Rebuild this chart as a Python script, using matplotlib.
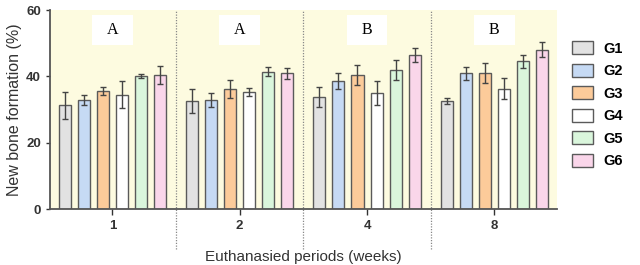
import numpy as np
import matplotlib
matplotlib.use("Agg")
import matplotlib.pyplot as plt
from matplotlib.patches import Patch, Rectangle

plt.rcParams['font.family'] = ['Liberation Sans', 'DejaVu Sans']

periods = ['1', '2', '4', '8']
groups = ['G1', 'G2', 'G3', 'G4', 'G5', 'G6']
letters = ['A', 'A', 'B', 'B']

# mean values, one list per group, ordered by period
g1 = [31.3, 32.6, 33.7, 32.6]
g2 = [32.8, 32.9, 38.5, 40.9]
g3 = [35.6, 36.1, 40.4, 40.9]
g4 = [34.5, 35.3, 34.9, 36.3]
g5 = [40.1, 41.4, 41.8, 44.5]
g6 = [40.5, 40.9, 46.4, 48.1]

# error bars
e1 = [4.0, 3.6, 3.0, 0.8]
e2 = [1.5, 2.2, 2.4, 2.0]
e3 = [1.2, 2.7, 2.9, 3.0]
e4 = [4.0, 1.2, 3.6, 3.1]
e5 = [0.6, 1.4, 3.0, 2.0]
e6 = [2.7, 1.6, 2.2, 2.3]

means = [g1, g2, g3, g4, g5, g6]
errs = [e1, e2, e3, e4, e5, e6]
colors = ['#e2e2e2', '#c6daf4', '#fccb9a', '#ffffff', '#daf6dc', '#fad6ea']
edge = '#5a5a5a'

fig = plt.figure(figsize=(6.4, 2.65), dpi=100)
ax = fig.add_axes([0.078, 0.211, 0.792, 0.751])
ax.set_facecolor('#fdfbe0')

x = np.arange(len(periods))
step = 0.15
width = 0.095
for i in range(len(groups)):
    pos = x + (i - 2.5) * step
    ax.bar(pos, means[i], width, color=colors[i], edgecolor=edge, linewidth=1.0, zorder=2)
    ax.errorbar(pos, means[i], yerr=errs[i], fmt='none', ecolor='#444444',
                elinewidth=1.0, capsize=2.5, capthick=1.0, zorder=3)

ax.set_xlim(-0.49, 3.49)
ax.set_ylim(0, 60)
ax.set_yticks([0, 20, 40, 60])
ax.set_xticks(x)
ax.set_xticklabels(periods)
for lab in ax.get_xticklabels() + ax.get_yticklabels():
    lab.set_fontweight('bold')
    lab.set_fontsize(9.5)
ax.tick_params(axis='both', colors='#333333', length=3, width=1.0)
ax.tick_params(axis='x', length=4, pad=4)

for s in ['top', 'right']:
    ax.spines[s].set_visible(False)
for s in ['left', 'bottom']:
    ax.spines[s].set_color('#555555')
    ax.spines[s].set_linewidth(1.3)

# dotted separators
for sep in [0.5, 1.5, 2.5]:
    ax.plot([sep, sep], [-0.2, 1.0], transform=ax.get_xaxis_transform(),
            color='#888888', linestyle=(0, (1, 1.2)), linewidth=0.9, clip_on=False, zorder=1)

# letter boxes
box_w, box_y0, box_y1 = 0.32, 49.4, 58.5
for xi, t in zip(x, letters):
    ax.add_patch(Rectangle((xi - box_w / 2, box_y0), box_w, box_y1 - box_y0,
                           facecolor='white', edgecolor='none', zorder=4))
    ax.text(xi, (box_y0 + box_y1) / 2, t, ha='center', va='center', fontsize=11.5,
            family='Liberation Serif', zorder=5)

ax.set_ylabel('New bone formation (%)', fontsize=11.5, color='#333333', labelpad=3)
ax.set_xlabel('Euthanasied periods (weeks)', fontsize=11, color='#333333', labelpad=13)

handles = [Patch(facecolor=c, edgecolor=edge, linewidth=1.0) for c in colors]
leg = ax.legend(handles, groups, loc='upper left', bbox_to_anchor=(1.005, 0.91),
                frameon=False, handlelength=1.4, handleheight=1.0, labelspacing=0.55,
                handletextpad=0.7, prop={'weight': 'bold', 'size': 10.5})

fig.savefig('out.png', dpi=100)
